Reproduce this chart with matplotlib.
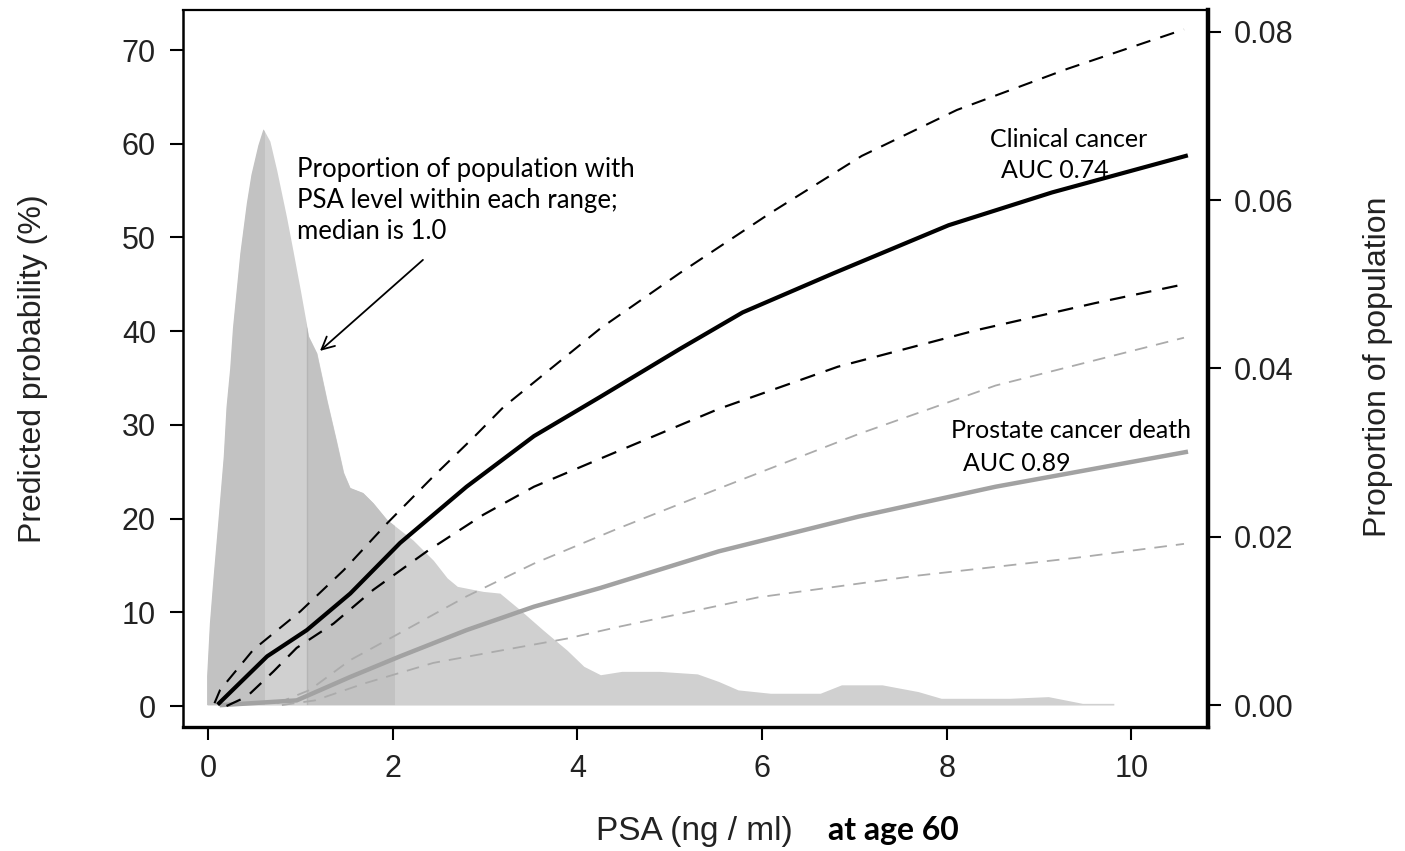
import matplotlib
matplotlib.use("Agg")
import matplotlib.pyplot as plt
from matplotlib.ticker import FormatStrFormatter

# --- data ---
# predicted probability of clinical cancer (%), with 95% band
clin_x = [0.12, 0.64, 1.07, 1.54, 2.08, 2.80, 3.53, 4.25, 5.11, 5.79, 6.78, 8.02, 9.14, 10.59]
clin_y = [0.3, 5.3, 8.1, 12.0, 17.4, 23.4, 28.8, 33.0, 38.1, 42.0, 46.2, 51.3, 54.8, 58.7]
clin_hi_x = [0.07, 0.13, 0.49, 1.00, 1.47, 1.94, 2.44, 2.88, 3.20, 4.25, 5.11, 6.09, 7.08, 8.11, 9.31, 10.57]
clin_hi_y = [0.3, 1.7, 6.0, 10.1, 14.5, 19.5, 24.5, 28.7, 31.9, 40.3, 46.2, 52.6, 58.7, 63.6, 68.0, 72.2]
clin_lo_x = [0.20, 0.42, 0.71, 0.96, 1.36, 1.79, 2.37, 2.98, 3.53, 4.25, 5.53, 6.82, 8.32, 9.61, 10.57]
clin_lo_y = [0.0, 1.0, 3.7, 6.2, 8.8, 12.4, 16.5, 20.4, 23.4, 26.4, 31.7, 36.2, 40.1, 43.0, 45.0]

# predicted probability of prostate cancer death (%), with 95% band
pcd_x = [0.15, 0.96, 1.54, 2.08, 2.80, 3.53, 4.25, 5.53, 7.04, 8.53, 10.59]
pcd_y = [0.1, 0.6, 3.1, 5.3, 8.1, 10.6, 12.6, 16.5, 20.2, 23.4, 27.1]
pcd_hi_x = [0.75, 1.10, 1.54, 2.08, 2.80, 3.53, 4.43, 5.53, 7.04, 8.53, 10.57]
pcd_hi_y = [0.3, 1.7, 4.9, 7.8, 11.7, 15.2, 18.9, 23.2, 29.0, 34.2, 39.3]
pcd_lo_x = [0.80, 1.16, 1.69, 2.44, 3.16, 3.89, 4.47, 5.96, 7.67, 9.39, 10.57]
pcd_lo_y = [0.1, 0.6, 2.4, 4.6, 5.9, 7.2, 8.5, 11.6, 13.9, 15.8, 17.3]

# proportion of population by PSA level
dens_x = [-0.01, 0.02, 0.06, 0.11, 0.17, 0.20, 0.24, 0.27, 0.35, 0.42, 0.47, 0.545, 0.60,
          0.67, 0.745, 0.85, 0.925, 1.0, 1.09, 1.18, 1.29, 1.39, 1.47, 1.54, 1.68, 1.79,
          1.94, 2.22, 2.44, 2.59, 2.70, 2.98, 3.16, 3.38, 3.63, 3.89, 4.07, 4.25, 4.48,
          4.89, 5.30, 5.53, 5.74, 6.09, 6.63, 6.86, 7.30, 7.69, 7.94, 8.68, 9.10, 9.47, 9.81]
dens_y = [0.0034, 0.0097, 0.0152, 0.0216, 0.0295, 0.0354, 0.0400, 0.0448, 0.0537, 0.0596,
          0.0630, 0.0665, 0.0684, 0.0670, 0.0635, 0.0580, 0.0537, 0.0493, 0.0438, 0.0418,
          0.0362, 0.0315, 0.0276, 0.0258, 0.0252, 0.0240, 0.0220, 0.0196, 0.0172, 0.0151,
          0.0141, 0.0135, 0.0133, 0.0113, 0.0089, 0.0065, 0.0046, 0.0036, 0.0040, 0.0040,
          0.0037, 0.0028, 0.0018, 0.0014, 0.0014, 0.0024, 0.0024, 0.0016, 0.0008, 0.0008,
          0.0010, 0.0002, 0.0002]
quartiles = [0.62, 1.07, 2.03]

x_ticks = [0, 2, 4, 6, 8, 10]
y_ticks = [0, 10, 20, 30, 40, 50, 60, 70]
y2_ticks = [0.00, 0.02, 0.04, 0.06, 0.08]

W, H = 1405, 851
tick_font = "Liberation Sans"
note_font = "Lato"

fig = plt.figure(figsize=(W / 100, H / 100), dpi=100)
ax = fig.add_axes([183 / W, 1 - 727 / H, (1208 - 183) / W, (727 - 10) / H])
ax2 = ax.twinx()
ax.set_zorder(ax2.get_zorder() + 1)
ax.patch.set_visible(False)

# population distribution, shaded by quartile
poly = ax2.fill_between(dens_x, 0, dens_y, color="#d0d0d0", lw=0)
clip = poly.get_paths()[0]
for lo, hi in [(dens_x[0], quartiles[0]), (quartiles[1], quartiles[2])]:
    span = ax2.axvspan(lo, hi, color="#c2c2c2", lw=0)
    span.set_clip_path(clip, poly.get_transform())
ax2.axvline(quartiles[1], color="#b5b5b5", lw=1).set_clip_path(clip, poly.get_transform())

# curves
dash = (0, (7, 5))
ax.plot(pcd_hi_x, pcd_hi_y, color="#ababab", lw=1.3, ls=dash)
ax.plot(pcd_lo_x, pcd_lo_y, color="#ababab", lw=1.3, ls=dash)
ax.plot(pcd_x, pcd_y, color="#a2a2a2", lw=3.2, solid_joinstyle="round")
ax.plot(clin_hi_x, clin_hi_y, color="black", lw=1.5, ls=dash)
ax.plot(clin_lo_x, clin_lo_y, color="black", lw=1.6, ls=dash)
ax.plot(clin_x, clin_y, color="black", lw=3.0, solid_joinstyle="round")

# limits and ticks
ax.set_xlim(-0.271, 10.83)
ax.set_ylim(-2.24, 74.27)
ax2.set_ylim(-0.00261, 0.08258)
ax.set_xticks(x_ticks)
ax.set_yticks(y_ticks)
ax2.set_yticks(y2_ticks)
ax2.yaxis.set_major_formatter(FormatStrFormatter("%.2f"))

ax.tick_params(axis="both", direction="out", length=9.5, width=1.5,
               labelsize=22, pad=10)
ax2.tick_params(axis="y", direction="out", length=9.5, width=1.5,
                labelsize=22, pad=9)
for lab in ax.get_xticklabels() + ax.get_yticklabels() + ax2.get_yticklabels():
    lab.set_fontfamily(tick_font)
    lab.set_color("#222222")

for sp in ax2.spines.values():
    sp.set_visible(False)
ax.spines["left"].set_linewidth(1.8)
ax.spines["top"].set_linewidth(1.6)
ax.spines["bottom"].set_linewidth(2.4)
ax.spines["right"].set_linewidth(3.2)

# axis titles
fig.text(33 / W, 1 - 369 / H, "Predicted probability (%)", rotation=90,
         ha="center", va="center", fontsize=23, family=tick_font, color="#222222")
fig.text(1378 / W, 1 - 367 / H, "Proportion of population", rotation=90,
         ha="center", va="center", fontsize=23, family=tick_font, color="#222222")
fig.text(694 / W, 1 - 840 / H, "PSA (ng / ml)", ha="center", va="baseline",
         fontsize=24, family=tick_font, color="#222222")
fig.text(828 / W, 1 - 840 / H, "at age 60", ha="left", va="baseline",
         fontsize=23, family=note_font, fontweight="bold")

# annotations
ax.text(0.96, 56.4, "Proportion of population with", fontsize=18.5, family=note_font)
ax.text(0.96, 53.1, "PSA level within each range;", fontsize=18.5, family=note_font)
ax.text(0.96, 49.8, "median is 1.0", fontsize=18.5, family=note_font)
ax.annotate("", xy=(1.19, 37.7), xytext=(2.35, 47.8),
            arrowprops=dict(arrowstyle="->,head_length=0.9,head_width=0.45",
                            color="black", lw=1.3))
ax.text(8.47, 59.65, "Clinical cancer", fontsize=18, family=note_font)
ax.text(8.59, 56.34, "AUC 0.74", fontsize=18, family=note_font)
ax.text(8.05, 28.55, "Prostate cancer death", fontsize=18, family=note_font)
ax.text(8.18, 25.12, "AUC 0.89", fontsize=18, family=note_font)

fig.savefig("out.png", dpi=100)
